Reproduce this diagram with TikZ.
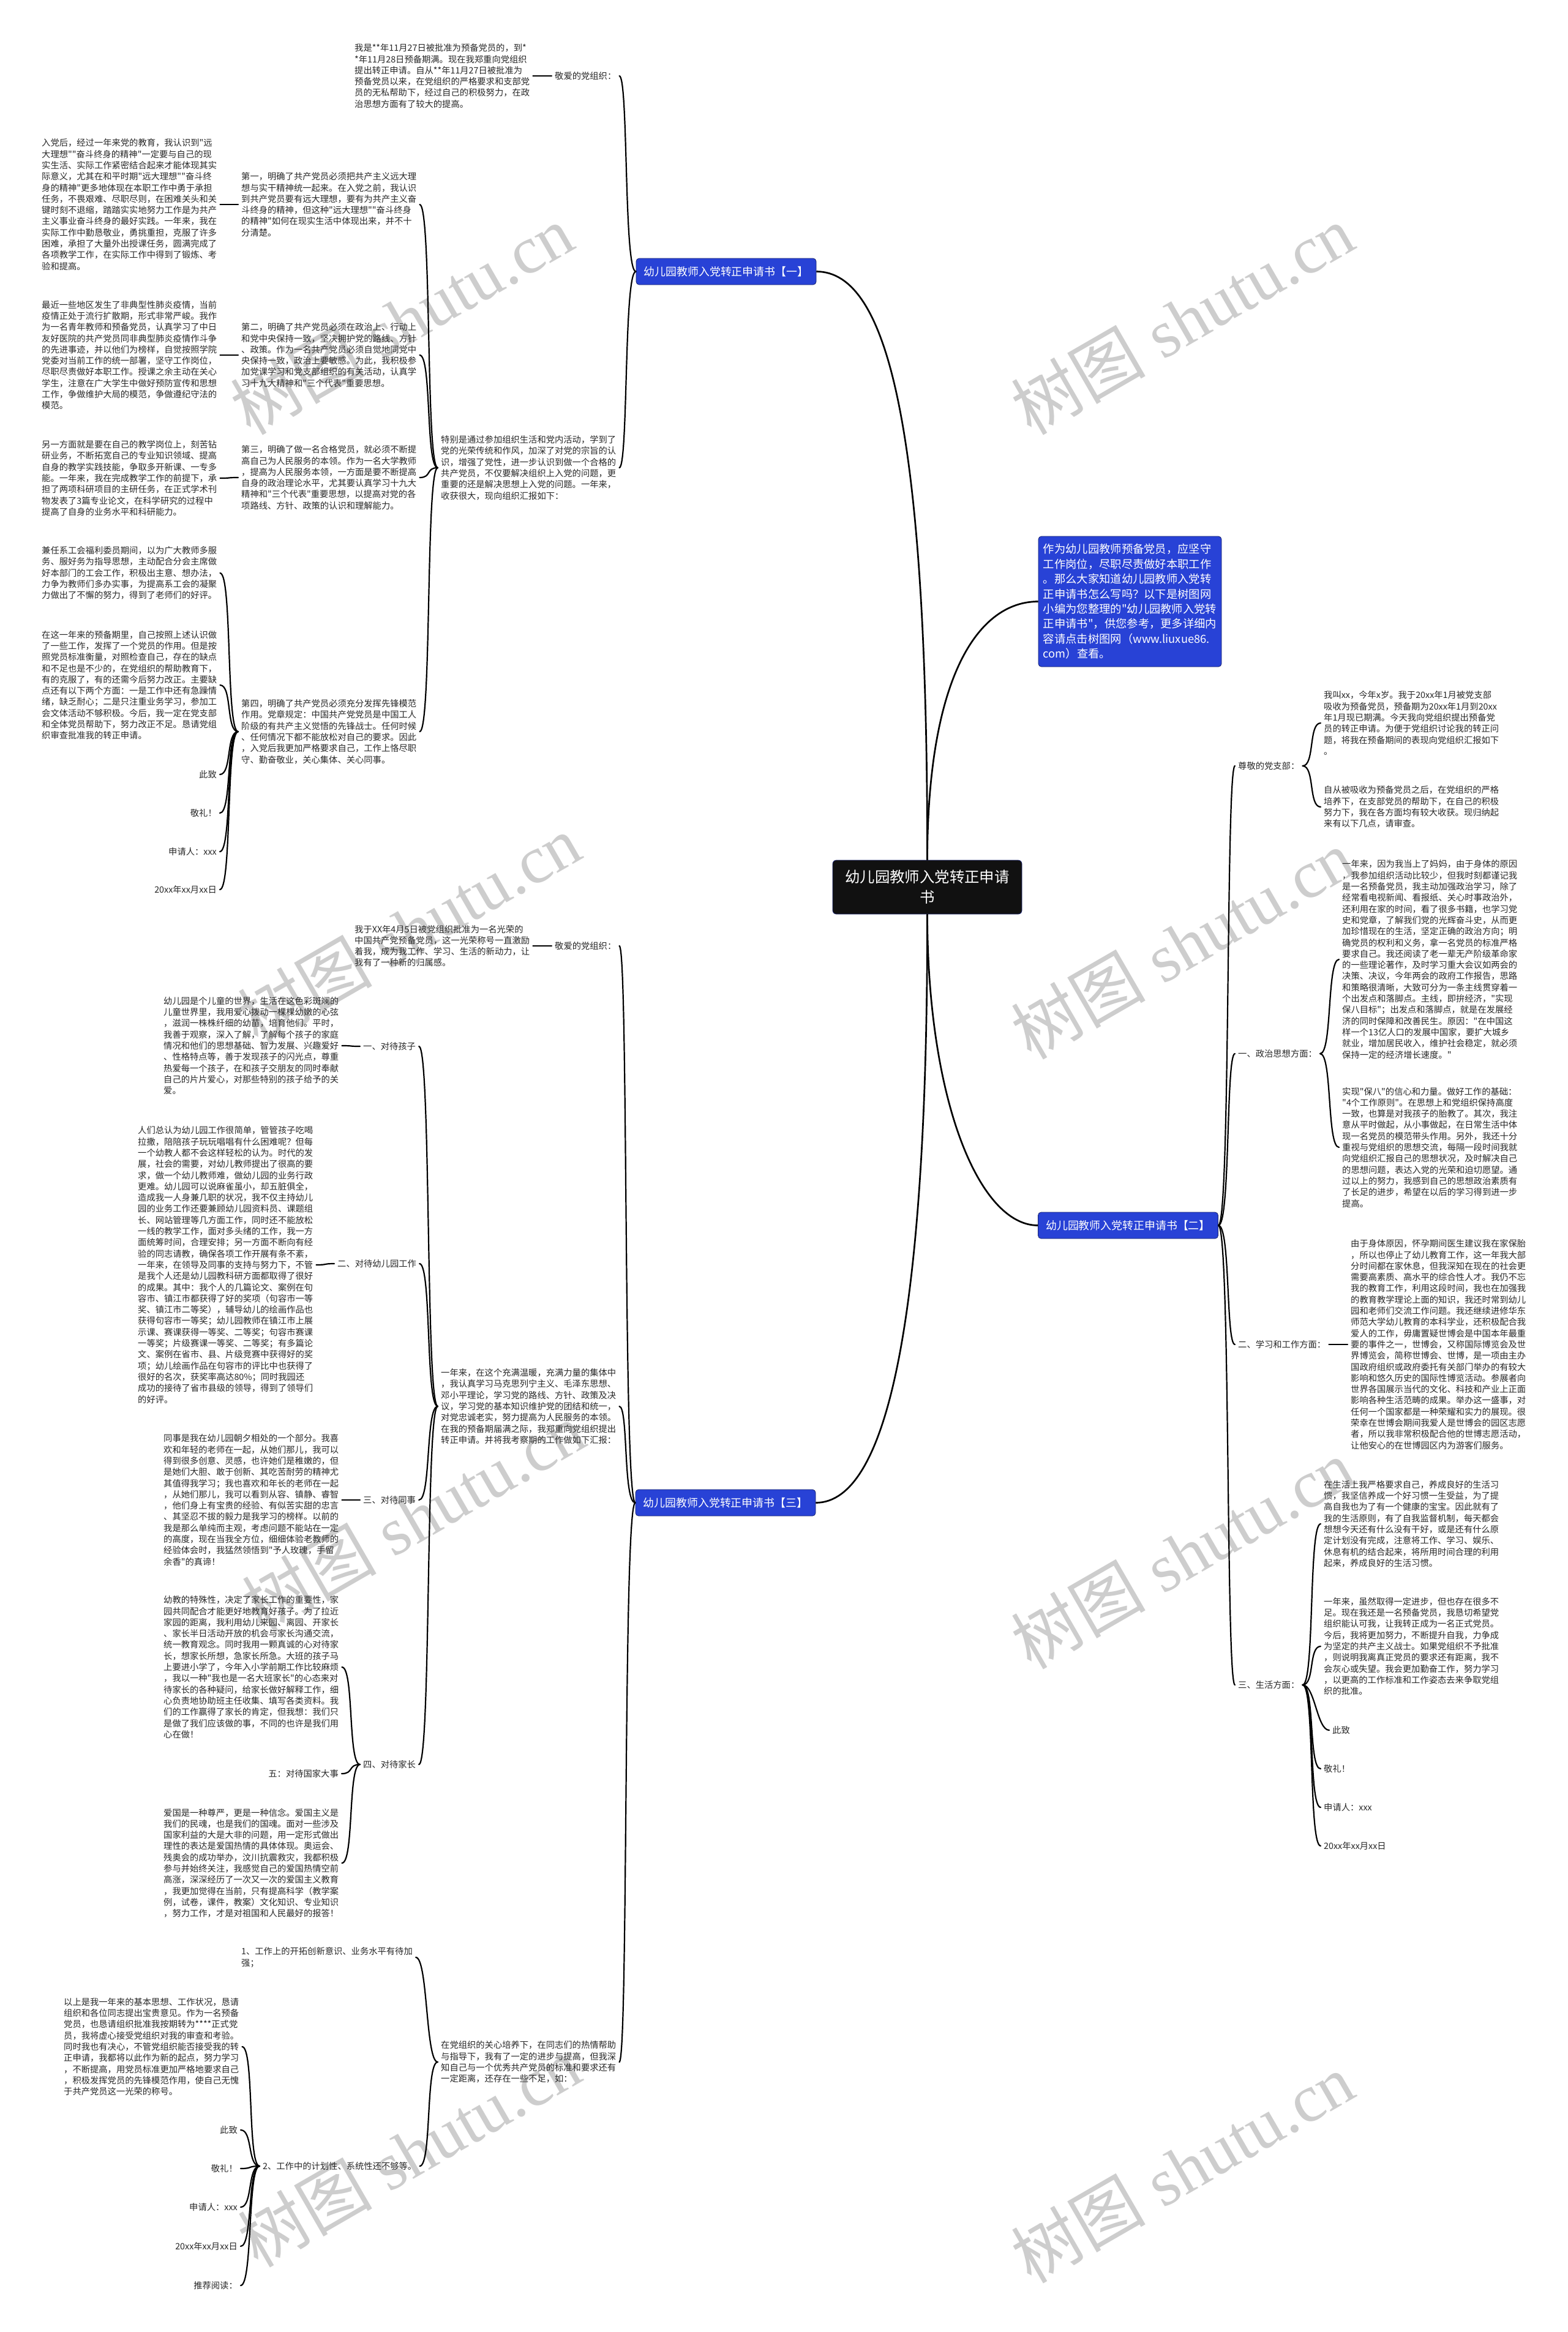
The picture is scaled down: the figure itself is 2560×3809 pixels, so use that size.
\documentclass[tikz,border=0pt]{standalone}
\usepackage{fontspec}
\newfontfamily\cjk{Noto Sans CJK SC}
\newfontfamily\wmserif{Liberation Serif}
\definecolor{boxblue}{RGB}{40,66,214}
\definecolor{boxedge}{RGB}{25,35,110}
\definecolor{centerfill}{RGB}{17,17,17}
\definecolor{txt}{RGB}{40,40,40}
\definecolor{wmgray}{RGB}{205,205,205}
\tikzset{
  leaf/.style={inner sep=0pt, align=left, font=\cjk\fontsize{14.3}{18.3}\selectfont, text=txt},
  lk/.style={line width=2.2pt, line cap=round, shorten <=5pt, shorten >=5pt},
  lkb/.style={line width=2.2pt, line cap=round, shorten >=5pt},
  hub/.style={line width=2.7pt},
  branchbox/.style={fill=boxblue, draw=boxedge, line width=0.8pt, rounded corners=5pt, text=white,
    font=\cjk\fontsize{17.9}{22}\selectfont, minimum width=294pt, minimum height=43pt, inner sep=0pt},
  introbox/.style={fill=boxblue, draw=boxedge, line width=0.8pt, rounded corners=5pt, text=white,
    font=\cjk\fontsize{18.3}{24.4}\selectfont, minimum width=299pt, minimum height=213pt, inner sep=0pt, align=left},
  rootbox/.style={fill=centerfill, draw=boxedge, line width=0.8pt, rounded corners=6pt, text=white,
    font=\cjk\fontsize{24.4}{33}\selectfont, minimum width=309pt, minimum height=88pt, inner sep=0pt, align=center},
  wm/.style={text=wmgray, rotate=30, font=\wmserif\fontsize{110}{110}\selectfont},
}
\newcommand\LinkL[2]{\draw[lk] (#1.west) .. controls +(-25,0) and +(25,0) .. (#2.east);}
\newcommand\LinkR[2]{\draw[lk] (#1.east) .. controls +(25,0) and +(-25,0) .. (#2.west);}
\newcommand\LinkLB[2]{\draw[lkb] (#1.west) .. controls +(-20,0) and +(20,0) .. (#2.east);}
\newcommand\LinkRB[2]{\draw[lkb] (#1.east) .. controls +(20,0) and +(-20,0) .. (#2.west);}
\begin{document}
\begin{tikzpicture}[x=1pt,y=-1pt]
\fill[white] (0,0) rectangle (2560,3809);
\useasboundingbox (0,0) rectangle (2560,3809);

% watermarks
\foreach \wx/\wy [count=\wi] in {656/522, 1931/522, 668/1518, 1931/1542, 675/2478, 1931/2538, 668/3515, 1931/3541}
  \node[wm] (wm\wi) at (\wx,\wy) {{\cjk 树图} shutu.cn};

% central and first-level
\node[rootbox] (root) at (1514.5,1449) {幼儿园教师入党转正申请\\书};
\node[introbox] (intro) at (1845.5,982.5) {作为幼儿园教师预备党员，应坚守\\工作岗位，尽职尽责做好本职工作\\。那么大家知道幼儿园教师入党转\\正申请书怎么写吗？以下是树图网\\小编为您整理的"幼儿园教师入党转\\正申请书"，供您参考，更多详细内\\容请点击树图网（www.liuxue86.\\com）查看。};
\node[branchbox] (b1) at (1186,443.5) {幼儿园教师入党转正申请书【一】};
\node[branchbox] (b2) at (1842.5,2001.5) {幼儿园教师入党转正申请书【二】};
\node[branchbox] (b3) at (1185,2454.5) {幼儿园教师入党转正申请书【三】};

\draw[hub] (root.north) .. controls (1515,700) and (1450,443.5) .. (b1.east);
\draw[hub] (root.north) .. controls (1515,1100) and (1600,982.5) .. (intro.west);
\draw[hub] (root.south) .. controls (1515,1800) and (1600,2001.5) .. (b2.west);
\draw[hub] (root.south) .. controls (1515,2150) and (1450,2454.5) .. (b3.east);

% ---------------- branch 1 ----------------
\node[leaf, anchor=west] (a1) at (906,124) {敬爱的党组织：};
\node[leaf, anchor=west] (a1t) at (579,124) {我是**年11月27日被批准为预备党员的，到*\\{*}年11月28日预备期满。现在我郑重向党组织\\提出转正申请。自从**年11月27日被批准为\\预备党员以来，在党组织的严格要求和支部党\\员的无私帮助下，经过自己的积极努力，在政\\治思想方面有了较大的提高。};
\node[leaf, anchor=west] (bb) at (720,764) {特别是通过参加组织生活和党内活动，学到了\\党的光荣传统和作风，加深了对党的宗旨的认\\识，增强了党性，进一步认识到做一个合格的\\共产党员，不仅要解决组织上入党的问题，更\\重要的还是解决思想上入党的问题。一年来，\\收获很大，现向组织汇报如下：};
\node[leaf, anchor=west] (c1) at (394,334) {第一，明确了共产党员必须把共产主义远大理\\想与实干精神统一起来。在入党之前，我认识\\到共产党员要有远大理想，要有为共产主义奋\\斗终身的精神，但这种"远大理想""奋斗终身\\的精神"如何在现实生活中体现出来，并不十\\分清楚。};
\node[leaf, anchor=west] (c1t) at (68,334) {入党后，经过一年来党的教育，我认识到"远\\大理想""奋斗终身的精神"一定要与自己的现\\实生活、实际工作紧密结合起来才能体现其实\\际意义，尤其在和平时期"远大理想""奋斗终\\身的精神"更多地体现在本职工作中勇于承担\\任务，不畏艰难、尽职尽则，在困难关头和关\\键时刻不退缩，踏踏实实地努力工作是为共产\\主义事业奋斗终身的最好实践。一年来，我在\\实际工作中勤恳敬业，勇挑重担，克服了许多\\困难，承担了大量外出授课任务，圆满完成了\\各项教学工作，在实际工作中得到了锻炼、考\\验和提高。};
\node[leaf, anchor=west] (c2) at (394,580) {第二，明确了共产党员必须在政治上、行动上\\和党中央保持一致，坚决拥护党的路线、方针\\、政策。作为一名共产党员必须自觉地同党中\\央保持一致，政治上要敏感。为此，我积极参\\加党课学习和党支部组织的有关活动，认真学\\习十九大精神和"三个代表"重要思想。};
\node[leaf, anchor=west] (c2t) at (68,580) {最近一些地区发生了非典型性肺炎疫情，当前\\疫情正处于流行扩散期，形式非常严峻。我作\\为一名青年教师和预备党员，认真学习了中日\\友好医院的共产党员同非典型肺炎疫情作斗争\\的先进事迹，并以他们为榜样，自觉按照学院\\党委对当前工作的统一部署，坚守工作岗位，\\尽职尽责做好本职工作。授课之余主动在关心\\学生，注意在广大学生中做好预防宣传和思想\\工作，争做维护大局的模范，争做遵纪守法的\\模范。};
\node[leaf, anchor=west] (c3) at (394,780) {第三，明确了做一名合格党员，就必须不断提\\高自己为人民服务的本领。作为一名大学教师\\，提高为人民服务本领，一方面是要不断提高\\自身的政治理论水平，尤其要认真学习十九大\\精神和"三个代表"重要思想，以提高对党的各\\项路线、方针、政策的认识和理解能力。};
\node[leaf, anchor=west] (c3t) at (68,781) {另一方面就是要在自己的教学岗位上，刻苦钻\\研业务，不断拓宽自己的专业知识领域、提高\\自身的教学实践技能，争取多开新课、一专多\\能。一年来，我在完成教学工作的前提下，承\\担了两项科研项目的主研任务，在正式学术刊\\物发表了3篇专业论文，在科学研究的过程中\\提高了自身的业务水平和科研能力。};
\node[leaf, anchor=west] (c4) at (394,1195) {第四，明确了共产党员必须充分发挥先锋模范\\作用。党章规定：中国共产党党员是中国工人\\阶级的有共产主义觉悟的先锋战士。任何时候\\、任何情况下都不能放松对自己的要求。因此\\，入党后我更加严格要求自己，工作上恪尽职\\守、勤奋敬业，关心集体、关心同事。};
\node[leaf, anchor=west] (c4a) at (68,936) {兼任系工会福利委员期间，以为广大教师多服\\务、服好务为指导思想，主动配合分会主席做\\好本部门的工会工作，积极出主意、想办法，\\力争为教师们多办实事，为提高系工会的凝聚\\力做出了不懈的努力，得到了老师们的好评。};
\node[leaf, anchor=west] (c4b) at (68,1119) {在这一年来的预备期里，自己按照上述认识做\\了一些工作，发挥了一个党员的作用。但是按\\照党员标准衡量，对照检查自己，存在的缺点\\和不足也是不少的，在党组织的帮助教育下，\\有的克服了，有的还需今后努力改正。主要缺\\点还有以下两个方面：一是工作中还有急躁情\\绪，缺乏耐心；二是只注重业务学习，参加工\\会文体活动不够积极。今后，我一定在党支部\\和全体党员帮助下，努力改正不足。恳请党组\\织审查批准我的转正申请。};
\node[leaf, anchor=east] (c4c) at (354,1265) {此致};
\node[leaf, anchor=east] (c4d) at (354,1328) {敬礼！};
\node[leaf, anchor=east] (c4e) at (354,1391) {申请人：xxx};
\node[leaf, anchor=east] (c4f) at (354,1453) {20xx年xx月xx日};

\LinkLB{b1}{a1}
\LinkLB{b1}{bb}
\LinkL{a1}{a1t}
\LinkL{bb}{c1}
\LinkL{bb}{c2}
\LinkL{bb}{c3}
\LinkL{bb}{c4}
\LinkL{c1}{c1t}
\LinkL{c2}{c2t}
\LinkL{c3}{c3t}
\LinkL{c4}{c4a}
\LinkL{c4}{c4b}
\LinkL{c4}{c4c}
\LinkL{c4}{c4d}
\LinkL{c4}{c4e}
\LinkL{c4}{c4f}

% ---------------- branch 3 ----------------
\node[leaf, anchor=west] (d1) at (906,1545) {敬爱的党组织：};
\node[leaf, anchor=west] (d1t) at (579,1545) {我于XX年4月5日被党组织批准为一名光荣的\\中国共产党预备党员，这一光荣称号一直激励\\着我，成为我工作、学习、生活的新动力，让\\我有了一种新的归属感。};
\node[leaf, anchor=west] (ee) at (720,2297) {一年来，在这个充满温暖，充满力量的集体中\\，我认真学习马克思列宁主义、毛泽东思想、\\邓小平理论，学习党的路线、方针、政策及决\\议，学习党的基本知识维护党的团结和统一，\\对党忠诚老实，努力提高为人民服务的本领。\\在我的预备期届满之际，我郑重向党组织提出\\转正申请。并将我考察期的工作做如下汇报：};
\node[leaf, anchor=west] (e1) at (593,1709) {一、对待孩子};
\node[leaf, anchor=west] (e1t) at (267,1708) {幼儿园是个儿童的世界，生活在这色彩斑斓的\\儿童世界里，我用爱心拨动一棵棵幼嫩的心弦\\，滋润一株株纤细的幼苗，培育他们。平时，\\我善于观察，深入了解，了解每个孩子的家庭\\情况和他们的思想基础、智力发展、兴趣爱好\\、性格特点等，善于发现孩子的闪光点，尊重\\热爱每一个孩子，在和孩子交朋友的同时奉献\\自己的片片爱心，对那些特别的孩子给予的关\\爱。};
\node[leaf, anchor=west] (e2) at (551,2064) {二、对待幼儿园工作};
\node[leaf, anchor=west] (e2t) at (225,2066) {人们总认为幼儿园工作很简单，管管孩子吃喝\\拉撒，陪陪孩子玩玩唱唱有什么困难呢？但每\\一个幼教人都不会这样轻松的认为。时代的发\\展，社会的需要，对幼儿教师提出了很高的要\\求，做一个幼儿教师难，做幼儿园的业务行政\\更难。幼儿园可以说麻雀虽小，却五脏俱全，\\造成我一人身兼几职的状况，我不仅主持幼儿\\园的业务工作还要兼顾幼儿园资料员、课题组\\长、网站管理等几方面工作，同时还不能放松\\一线的教学工作，面对多头绪的工作，我一方\\面统筹时间，合理安排；另一方面不断向有经\\验的同志请教，确保各项工作开展有条不紊，\\一年来，在领导及同事的支持与努力下，不管\\是我个人还是幼儿园教科研方面都取得了很好\\的成果。其中：我个人的几篇论文、案例在句\\容市、镇江市都获得了好的奖项（句容市一等\\奖、镇江市二等奖），辅导幼儿的绘画作品也\\获得句容市一等奖；幼儿园教师在镇江市上展\\示课、赛课获得一等奖、二等奖；句容市赛课\\一等奖；片级赛课一等奖、二等奖；有多篇论\\文、案例在省市、县、片级竞赛中获得好的奖\\项；幼儿绘画作品在句容市的评比中也获得了\\很好的名次，获奖率高达80\%；同时我园还\\成功的接待了省市县级的领导，得到了领导们\\的好评。};
\node[leaf, anchor=west] (e3) at (593,2450) {三、对待同事};
\node[leaf, anchor=west] (e3t) at (267,2450) {同事是我在幼儿园朝夕相处的一个部分。我喜\\欢和年轻的老师在一起，从她们那儿，我可以\\得到很多创意、灵感，也许她们是稚嫩的，但\\是她们大胆、敢于创新、其吃苦耐劳的精神尤\\其值得我学习；我也喜欢和年长的老师在一起\\，从她们那儿，我可以看到从容、镇静、睿智\\，他们身上有宝贵的经验、有似苦实甜的忠言\\、其坚忍不拔的毅力是我学习的榜样。以前的\\我是那么单纯而主观，考虑问题不能站在一定\\的高度，现在当我全方位，细细体验老教师的\\经验体会时，我猛然领悟到"予人玫瑰，手留\\余香"的真谛！};
\node[leaf, anchor=west] (e4) at (593,2882) {四、对待家长};
\node[leaf, anchor=west] (e4a) at (267,2723) {幼教的特殊性，决定了家长工作的重要性，家\\园共同配合才能更好地教育好孩子。为了拉近\\家园的距离，我利用幼儿来园、离园、开家长\\、家长半日活动开放的机会与家长沟通交流，\\统一教育观念。同时我用一颗真诚的心对待家\\长，想家长所想，急家长所急。大班的孩子马\\上要进小学了，今年入小学前期工作比较麻烦\\，我以一种"我也是一名大班家长"的心态来对\\待家长的各种疑问，给家长做好解释工作，细\\心负责地协助班主任收集、填写各类资料。我\\们的工作赢得了家长的肯定，但我想：我们只\\是做了我们应该做的事，不同的也许是我们用\\心在做！};
\node[leaf, anchor=east] (e4b) at (553,2897) {五：对待国家大事};
\node[leaf, anchor=west] (e4c) at (267,3043) {爱国是一种尊严，更是一种信念。爱国主义是\\我们的民魂，也是我们的国魂。面对一些涉及\\国家利益的大是大非的问题，用一定形式做出\\理性的表达是爱国热情的具体体现。奥运会、\\残奥会的成功举办，汶川抗震救灾，我都积极\\参与并始终关注，我感觉自己的爱国热情空前\\高涨，深深经历了一次又一次的爱国主义教育\\，我更加觉得在当前，只有提高科学（教学案\\例，试卷，课件，教案）文化知识、专业知识\\，努力工作，才是对祖国和人民最好的报答！};
\node[leaf, anchor=west] (ff) at (720,3368) {在党组织的关心培养下，在同志们的热情帮助\\与指导下，我有了一定的进步与提高，但我深\\知自己与一个优秀共产党员的标准和要求还有\\一定距离，还存在一些不足，如：};
\node[leaf, anchor=west] (f1) at (394,3197) {1、工作上的开拓创新意识、业务水平有待加\\强；};
\node[leaf, anchor=west] (f2) at (429,3538) {2、工作中的计划性、系统性还不够等。};
\node[leaf, anchor=west] (f2a) at (104,3343) {以上是我一年来的基本思想、工作状况，恳请\\组织和各位同志提出宝贵意见。作为一名预备\\党员，也恳请组织批准我按期转为****正式党\\员，我将虚心接受党组织对我的审查和考验。\\同时我也有决心，不管党组织能否接受我的转\\正申请，我都将以此作为新的起点，努力学习\\，不断提高，用党员标准更加严格地要求自己\\，积极发挥党员的先锋模范作用，使自己无愧\\于共产党员这一光荣的称号。};
\node[leaf, anchor=east] (f2b) at (388,3479) {此致};
\node[leaf, anchor=east] (f2c) at (388,3542) {敬礼！};
\node[leaf, anchor=east] (f2d) at (388,3605) {申请人：xxx};
\node[leaf, anchor=east] (f2e) at (388,3669) {20xx年xx月xx日};
\node[leaf, anchor=east] (f2f) at (388,3733) {推荐阅读：};

\LinkLB{b3}{d1}
\LinkLB{b3}{ee}
\LinkLB{b3}{ff}
\LinkL{d1}{d1t}
\LinkL{ee}{e1}
\LinkL{ee}{e2}
\LinkL{ee}{e3}
\LinkL{ee}{e4}
\LinkL{e1}{e1t}
\LinkL{e2}{e2t}
\LinkL{e3}{e3t}
\LinkL{e4}{e4a}
\LinkL{e4}{e4b}
\LinkL{e4}{e4c}
\LinkL{ff}{f1}
\LinkL{ff}{f2}
\LinkL{f2}{f2a}
\LinkL{f2}{f2b}
\LinkL{f2}{f2c}
\LinkL{f2}{f2d}
\LinkL{f2}{f2e}
\LinkL{f2}{f2f}

% ---------------- branch 2 ----------------
\node[leaf, anchor=west] (g1) at (2022,1251) {尊敬的党支部：};
\node[leaf, anchor=west] (g1a) at (2162,1181) {我叫xx，今年x岁。我于20xx年1月被党支部\\吸收为预备党员，预备期为20xx年1月到20xx\\年1月现已期满。今天我向党组织提出预备党\\员的转正申请。为便于党组织讨论我的转正问\\题，将我在预备期间的表现向党组织汇报如下\\。};
\node[leaf, anchor=west] (g1b) at (2162,1318) {自从被吸收为预备党员之后，在党组织的严格\\培养下，在支部党员的帮助下，在自己的积极\\努力下，我在各方面均有较大收获。现归纳起\\来有以下几点，请审查。};
\node[leaf, anchor=west] (g2) at (2022,1721) {一、政治思想方面：};
\node[leaf, anchor=west] (g2a) at (2192,1567) {一年来，因为我当上了妈妈，由于身体的原因\\，我参加组织活动比较少，但我时刻都谨记我\\是一名预备党员，我主动加强政治学习，除了\\经常看电视新闻、看报纸、关心时事政治外，\\还利用在家的时间，看了很多书籍，也学习党\\史和党章，了解我们党的光辉奋斗史，从而更\\加珍惜现在的生活，坚定正确的政治方向；明\\确党员的权利和义务，拿一名党员的标准严格\\要求自己。我还阅读了老一辈无产阶级革命家\\的一些理论著作，及时学习重大会议如两会的\\决策、决议，今年两会的政府工作报告，思路\\和策略很清晰，大致可分为一条主线贯穿着一\\个出发点和落脚点。主线，即拚经济，"实现\\保八目标"；出发点和落脚点，就是在发展经\\济的同时保障和改善民生。原因："在中国这\\样一个13亿人口的发展中国家，要扩大城乡\\就业，增加居民收入，维护社会稳定，就必须\\保持一定的经济增长速度。"};
\node[leaf, anchor=west] (g2b) at (2192,1874) {实现"保八"的信心和力量。做好工作的基础：\\"4个工作原则"。在思想上和党组织保持高度\\一致，也算是对我孩子的胎教了。其次，我注\\意从平时做起，从小事做起，在日常生活中体\\现一名党员的模范带头作用。另外，我还十分\\重视与党组织的思想交流，每隔一段时间我就\\向党组织汇报自己的思想状况，及时解决自己\\的思想问题，表达入党的光荣和迫切愿望。通\\过以上的努力，我感到自己的思想政治素质有\\了长足的进步，希望在以后的学习得到进一步\\提高。};
\node[leaf, anchor=west] (g3) at (2022,2196) {二、学习和工作方面：};
\node[leaf, anchor=west] (g3a) at (2206,2196) {由于身体原因，怀孕期间医生建议我在家保胎\\，所以也停止了幼儿教育工作，这一年我大部\\分时间都在家休息，但我深知在现在的社会更\\需要高素质、高水平的综合性人才。我仍不忘\\我的教育工作，利用这段时间，我也在加强我\\的教育教学理论上面的知识，我还时常到幼儿\\园和老师们交流工作问题。我还继续进修华东\\师范大学幼儿教育的本科学业，还积极配合我\\爱人的工作，毋庸置疑世博会是中国本年最重\\要的事件之一，世博会，又称国际博览会及世\\界博览会，简称世博会、世博，是一项由主办\\国政府组织或政府委托有关部门举办的有较大\\影响和悠久历史的国际性博览活动。参展者向\\世界各国展示当代的文化、科技和产业上正面\\影响各种生活范畴的成果。举办这一盛事，对\\任何一个国家都是一种荣耀和实力的展现。很\\荣幸在世博会期间我爱人是世博会的园区志愿\\者，所以我非常积极配合他的世博志愿活动，\\让他安心的在世博园区内为游客们服务。};
\node[leaf, anchor=west] (g4) at (2022,2752) {三、生活方面：};
\node[leaf, anchor=west] (g4a) at (2162,2489) {在生活上我严格要求自己，养成良好的生活习\\惯，我坚信养成一个好习惯一生受益，为了提\\高自我也为了有一个健康的宝宝。因此就有了\\我的生活原则，有了自我监督机制，每天都会\\想想今天还有什么没有干好，或是还有什么原\\定计划没有完成，注意将工作、学习、娱乐、\\休息有机的结合起来，将所用时间合理的利用\\起来，养成良好的生活习惯。};
\node[leaf, anchor=west] (g4b) at (2162,2689) {一年来，虽然取得一定进步，但也存在很多不\\足。现在我还是一名预备党员，我恳切希望党\\组织能认可我，让我转正成为一名正式党员。\\今后，我将更加努力，不断提升自我，力争成\\为坚定的共产主义战士。如果党组织不予批准\\，则说明我离真正党员的要求还有距离，我不\\会灰心或失望。我会更加勤奋工作，努力学习\\，以更高的工作标准和工作姿态去来争取党组\\织的批准。};
\node[leaf, anchor=west] (g4c) at (2176,2826) {此致};
\node[leaf, anchor=west] (g4d) at (2162,2889) {敬礼！};
\node[leaf, anchor=west] (g4e) at (2162,2952) {申请人：xxx};
\node[leaf, anchor=west] (g4f) at (2162,3015) {20xx年xx月xx日};

\LinkRB{b2}{g1}
\LinkRB{b2}{g2}
\LinkRB{b2}{g3}
\LinkRB{b2}{g4}
\LinkR{g1}{g1a}
\LinkR{g1}{g1b}
\LinkR{g2}{g2a}
\LinkR{g2}{g2b}
\LinkR{g3}{g3a}
\LinkR{g4}{g4a}
\LinkR{g4}{g4b}
\LinkR{g4}{g4c}
\LinkR{g4}{g4d}
\LinkR{g4}{g4e}
\LinkR{g4}{g4f}
\end{tikzpicture}
\end{document}
